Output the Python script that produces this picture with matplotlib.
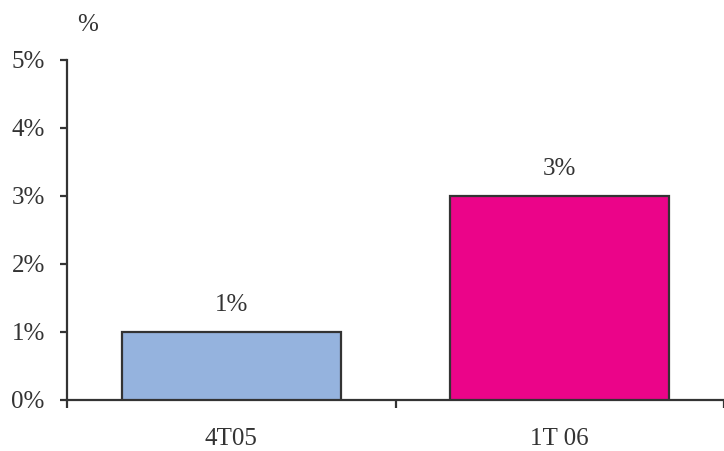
import matplotlib
matplotlib.use("Agg")
import matplotlib.pyplot as plt
from matplotlib import font_manager
from matplotlib.ticker import FixedLocator, FuncFormatter

categories = ["4T05", "1T 06"]
values = [1, 3]
colors = ["#95B3DE", "#EB0489"]
yticks = [0, 1, 2, 3, 4, 5]

names = sorted({f.name for f in font_manager.fontManager.ttflist})
serif = [n for n in ["Liberation Serif", "Times New Roman", "Tinos", "Nimbus Roman", "DejaVu Serif"] if n in names]
plt.rcParams['font.family'] = 'serif'
plt.rcParams['font.serif'] = serif
txt = "#333333"
fs = 18

fig = plt.figure(figsize=(7.24, 4.51), dpi=100)
ax = fig.add_axes([67/724, 51/451, 1 - 67/724, 340/451])

x = list(range(len(categories)))
bars = ax.bar(x, values, width=0.667, color=colors, edgecolor="#333333", linewidth=1.6, zorder=3)
for xi, v in zip(x, values):
    ax.text(xi, v + 0.23, f"{v}%", ha="center", va="bottom", fontsize=fs, color=txt)

ax.set_xlim(-0.5, len(categories) - 0.5)
ax.set_ylim(0, 5)
ax.set_yticks(yticks)
ax.yaxis.set_major_formatter(FuncFormatter(lambda v, p: f"{int(v)}%"))
ax.set_xticks(x)
ax.set_xticklabels(categories)
ax.xaxis.set_minor_locator(FixedLocator([i - 0.5 for i in range(len(categories) + 1)]))
ax.tick_params(axis="x", which="major", length=0, pad=20, labelsize=fs, labelcolor=txt)
ax.tick_params(axis="x", which="minor", length=6, width=1.6, color="#333333", direction="out")
ax.tick_params(axis="y", length=5, width=1.6, color="#333333", pad=11, labelsize=fs, labelcolor=txt)

for s in ["top", "right"]:
    ax.spines[s].set_visible(False)
for s in ["left", "bottom"]:
    ax.spines[s].set_color("#333333")
    ax.spines[s].set_linewidth(1.6)

fig.text(88/724, 1 - 25/451, "%", ha="center", va="center", fontsize=fs, color=txt)

fig.savefig("out.png", dpi=100)
